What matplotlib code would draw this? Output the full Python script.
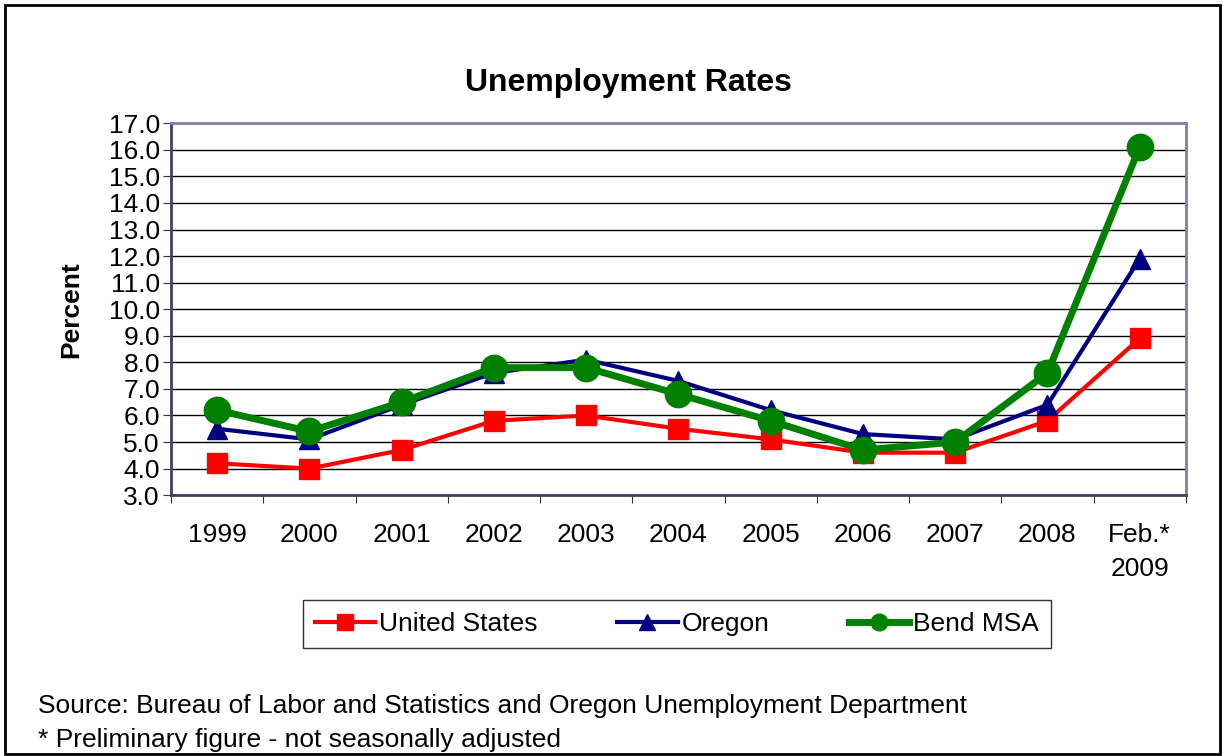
import matplotlib.pyplot as plt
from matplotlib.patches import Rectangle

plt.rcParams['font.family'] = ['Liberation Sans', 'DejaVu Sans']

# Data
years = ['1999', '2000', '2001', '2002', '2003', '2004', '2005', '2006', '2007', '2008', 'Feb.*\n2009']
us = [4.2, 4.0, 4.7, 5.8, 6.0, 5.5, 5.1, 4.6, 4.6, 5.8, 8.9]
oregon = [5.5, 5.1, 6.4, 7.6, 8.1, 7.3, 6.2, 5.3, 5.1, 6.4, 11.9]
bend = [6.2, 5.4, 6.5, 7.8, 7.8, 6.8, 5.8, 4.7, 5.0, 7.6, 16.1]
yticks = [3.0 + i for i in range(15)]

fig = plt.figure(figsize=(12.25, 7.56), dpi=100)
ax = fig.add_axes([0.1396, 0.345, 0.8284, 0.492])

x = list(range(len(years)))
ax.plot(x, us, '-', color='#ff0000', lw=3, marker='s', ms=14, label='United States', zorder=3)
ax.plot(x, oregon, '-', color='#000080', lw=3, marker='^', ms=15, label='Oregon', zorder=4)
ax.plot(x, bend, '-', color='#008000', lw=5, marker='o', ms=19, label='Bend MSA', zorder=5)

ax.set_ylim(3, 17)
ax.set_xlim(-0.5, len(years) - 0.5)
ax.set_yticks(yticks)
ax.set_yticklabels(['%.1f' % v for v in yticks], fontsize=19)
ax.yaxis.grid(True, color='black', lw=1)
ax.set_axisbelow(True)

# category labels between boundary ticks
ax.set_xticks([i - 0.5 for i in range(len(years) + 1)])
ax.set_xticklabels([])
ax.set_xticks(x, minor=True)
ax.set_xticklabels(years, minor=True, fontsize=19, linespacing=1.55, va='top')
ax.tick_params(axis='x', which='minor', length=0, pad=20)
ax.tick_params(axis='x', which='major', length=6, direction='out', color='#333333')
ax.tick_params(axis='y', length=6, direction='out', color='#333333', pad=2)

for s in ['left', 'bottom']:
    ax.spines[s].set_color('#404060')
    ax.spines[s].set_linewidth(2)
for s in ['top', 'right']:
    ax.spines[s].set_color('#8080b0')
    ax.spines[s].set_linewidth(2)

ax.set_ylabel('Percent', fontsize=19, fontweight='bold', labelpad=18)
fig.text(0.513, 0.89, 'Unemployment Rates', fontsize=23, fontweight='bold', ha='center', va='center')

leg = ax.legend(loc='center', bbox_to_anchor=(0.4985, -0.347), ncol=3, fontsize=19, frameon=True,
                fancybox=False, edgecolor='black', handlelength=2.3, columnspacing=3.0,
                borderpad=0.45, handletextpad=0.15, borderaxespad=0)
leg.get_frame().set_linewidth(1)
for h in leg.legend_handles:
    h.set_markersize(12)

fig.text(0.031, 0.066, 'Source: Bureau of Labor and Statistics and Oregon Unemployment Department',
         fontsize=19, va='center')
fig.text(0.031, 0.021, '* Preliminary figure - not seasonally adjusted', fontsize=19, va='center')

fig.patches.append(Rectangle((0.004, 0.003), 0.992, 0.99, transform=fig.transFigure,
                             fill=False, edgecolor='black', lw=2))

fig.savefig('out.png', dpi=100)
